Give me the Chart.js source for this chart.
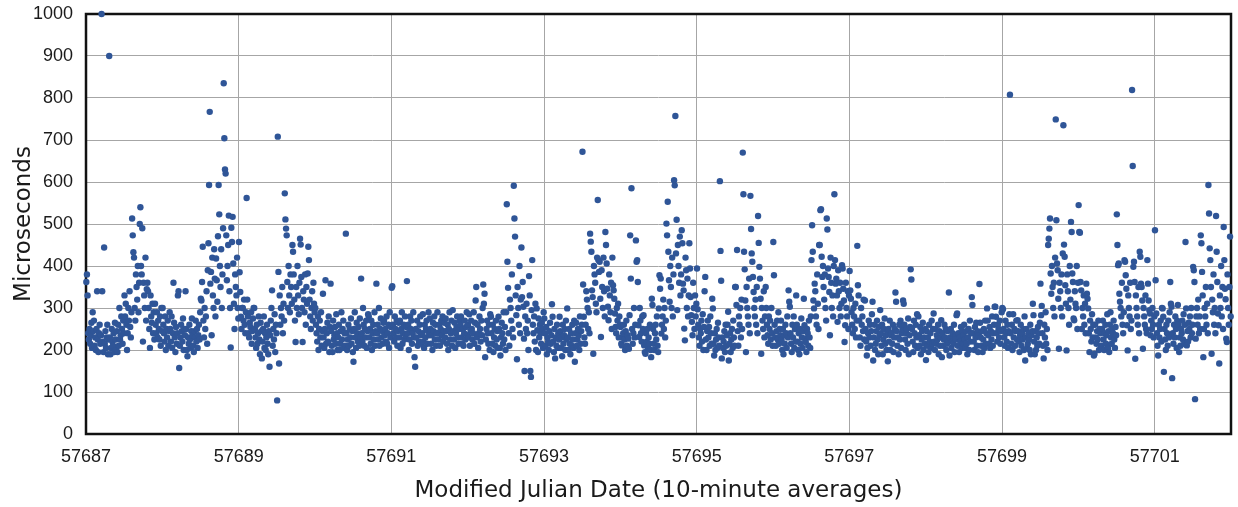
<!DOCTYPE html>
<html><head><meta charset="utf-8">
<script src="https://cdn.jsdelivr.net/npm/chart.js@4"></script>
<style>html,body{margin:0;padding:0;background:#fff}#wrap{width:1238px;height:507px;position:relative}</style>
</head><body><div id="wrap"><canvas id="c" width="1238" height="507"></canvas></div>
<script>
// Values: one array per MJD day, evenly spaced samples across the day (12 per tenth of a day).
const d57687 = [362,380,330,240,225,250,215,235,265,205,290,245, 270,210,230,200,250,340,225,195,240,260,215,235, 1000,340,220,195,444,215,245,205,230,260,190,225, 900,230,190,205,250,220,210,240,195,265,225,200, 245,195,260,210,300,225,235,280,250,215,270,240, 330,280,310,260,200,240,300,270,340,255,230,290, 513,473,433,420,300,270,380,350,320,400,290,360, 500,540,400,380,490,220,360,330,300,420,270,345, 360,340,300,250,205,330,280,265,310,240,290,225, 310,260,240,290,230,270,250,225,280,210,300,245];
const d57688 = [300,260,240,220,280,200,250,230,270,210,245,290, 250,220,280,205,240,360,265,230,195,255,215,240, 330,340,157,210,230,260,245,220,275,200,250,235, 340,250,200,185,230,215,260,225,205,245,275,235, 210,195,245,230,270,220,250,205,235,260,225,290, 322,318,362,446,270,230,300,250,280,340,215,390, 454,593,767,358,386,235,420,330,300,440,370,280, 418,366,315,471,593,523,400,350,440,300,380,490, 835,704,630,620,473,366,400,450,520,340,300,206, 491,457,517,406,310,250,380,350,330,420,300,275];
const d57689 = [457,385,338,279,250,300,300,270,320,260,240,290, 562,320,280,240,230,265,255,290,215,245,275,300, 300,250,230,205,260,215,240,280,225,190,265,245, 180,220,250,280,205,240,200,230,260,215,190,245, 160,235,270,300,342,210,250,225,285,195,260,240, 80,708,386,168,330,260,300,280,350,240,310,270, 573,511,489,473,362,300,400,330,290,380,350,310, 450,434,380,320,270,219,350,300,400,330,285,360, 465,451,374,300,219,340,320,290,380,260,350,310, 382,446,414,320,280,250,300,340,270,360,310,290];
const d57690 = [300,260,240,220,280,200,250,270,230,290,210,245, 334,230,205,250,366,215,240,265,220,280,195,255, 358,245,210,195,270,225,235,255,215,285,240,200, 230,260,200,215,245,290,225,250,270,205,240,210, 477,240,200,225,260,210,250,230,275,215,245,195, 172,250,290,230,205,265,240,220,255,210,275,230, 370,240,220,300,260,210,250,230,270,205,245,285, 280,230,250,215,270,200,240,260,225,290,210,245, 358,240,260,225,300,210,250,275,230,245,215,265, 270,235,250,220,280,215,240,260,205,290,230,255];
const d57691 = [348,352,260,240,220,280,250,230,270,210,245,265, 230,270,205,250,290,215,240,260,225,280,235,255, 364,240,260,200,225,280,250,270,215,240,290,230, 183,160,250,230,270,210,245,220,260,280,235,215, 240,285,220,205,260,230,250,270,215,245,290,235, 275,250,215,235,200,265,245,280,225,260,210,240, 290,240,225,260,210,250,270,235,280,220,245,265, 230,275,245,215,260,200,250,290,225,240,270,210, 295,245,225,265,205,240,255,280,230,215,250,270, 260,280,230,215,250,210,240,270,225,255,290,235];
const d57692 = [260,230,285,210,245,270,250,225,240,290,215,265, 318,350,230,260,205,240,280,250,220,270,235,300, 356,310,334,183,225,250,270,240,215,260,200,285, 279,240,215,260,195,230,250,210,270,225,245,205, 279,250,205,187,230,265,240,215,290,225,255,200, 290,547,410,348,240,210,320,300,270,380,250,230, 591,513,470,330,283,178,350,300,260,400,240,320, 444,326,362,303,227,150,280,250,310,240,270,200, 376,330,150,136,295,414,260,240,280,220,310,200, 299,247,195,275,230,260,240,215,265,250,205,290];
const d57693 = [275,240,210,255,190,230,220,200,245,265,215,235, 309,279,220,195,250,180,230,210,260,205,240,225, 279,245,205,230,185,260,215,235,250,200,270,225, 299,230,200,250,215,190,240,210,260,225,205,270, 172,240,265,210,225,250,235,200,280,215,245,260, 672,356,279,230,215,260,340,320,300,250,290,240, 477,458,434,342,326,191,400,380,360,310,290,420, 557,414,386,410,322,231,390,350,300,420,340,280, 481,450,406,346,303,271,380,330,290,360,250,420, 354,342,322,287,255,240,300,270,310,230,280,260];
const d57694 = [255,215,211,230,240,260,225,200,245,270,210,235, 227,203,283,473,370,585,250,215,240,300,230,260, 461,410,414,362,259,231,300,270,240,220,280,250, 283,211,195,191,240,220,250,205,230,215,260,200, 183,322,307,250,215,200,240,260,225,280,210,195, 299,378,346,370,239,260,280,320,250,300,230,270, 501,473,553,434,366,315,400,350,300,420,280,380, 604,592,757,430,510,295,450,400,360,470,330,380, 485,454,358,342,251,223,420,390,300,370,280,330, 454,394,326,283,267,235,360,300,250,330,280,310];
const d57695 = [394,297,260,230,210,250,240,270,220,285,200,255, 340,374,225,200,245,270,230,255,210,280,240,215, 322,299,215,187,240,200,225,250,205,265,230,210, 602,436,365,180,230,205,220,245,195,260,210,235, 260,291,175,215,240,195,225,250,205,270,230,210, 350,350,307,438,245,210,280,260,300,230,320,250, 670,571,434,392,318,195,350,300,280,260,370,240, 567,488,430,410,374,338,300,280,320,260,350,240, 519,455,398,370,322,191,300,270,250,340,230,280, 350,300,260,235,215,280,250,270,225,300,240,210];
const d57696 = [457,378,260,230,210,245,270,225,290,215,250,235, 270,225,200,250,190,235,215,260,240,205,280,230, 342,315,303,240,215,195,260,230,280,205,250,220, 330,260,220,200,240,190,250,215,275,230,205,245, 322,259,227,219,195,250,240,210,270,230,205,280, 414,497,434,318,299,358,340,280,260,380,310,250, 450,450,533,535,422,374,400,350,320,380,300,270, 513,487,394,374,338,235,420,360,300,330,280,400, 571,414,358,370,330,267,390,340,300,360,280,310, 402,394,346,318,219,259,360,300,280,340,250,330];
const d57697 = [388,342,322,290,260,240,300,280,250,310,230,270, 448,354,330,270,230,210,300,260,280,245,320,225, 318,250,220,187,205,240,270,230,260,210,245,285, 315,175,230,260,200,215,245,270,225,190,255,235, 295,240,210,260,190,225,250,275,215,235,200,245, 173,250,220,270,200,235,240,215,260,195,230,250, 337,315,245,210,230,190,260,225,270,205,240,250, 318,310,260,225,200,240,250,215,275,190,235,255, 392,368,250,220,195,270,240,210,260,230,285,205, 280,235,210,255,190,225,245,265,200,230,215,250];
const d57698 = [176,245,210,230,195,260,220,240,205,270,215,250, 287,220,200,250,215,235,225,260,190,245,210,230, 271,183,240,210,225,260,230,250,200,215,245,220, 337,187,230,250,205,220,240,215,260,195,235,225, 283,287,210,240,195,230,220,255,205,245,215,235, 260,225,205,245,215,190,230,250,200,270,220,240, 326,307,240,220,200,255,230,265,210,245,195,235, 357,265,230,210,245,195,225,250,205,270,215,240, 299,270,235,215,255,205,245,225,280,210,240,260, 303,303,279,240,220,260,250,230,270,215,245,290];
const d57699 = [300,297,250,230,210,270,240,220,260,205,245,285, 808,240,215,260,200,285,230,250,210,245,270,225, 271,245,220,195,235,260,210,240,225,250,200,280, 175,230,250,205,215,240,225,200,260,190,235,245, 310,283,220,190,245,200,230,210,255,240,215,265, 358,283,305,240,210,180,260,230,290,215,250,200, 450,465,489,513,382,334,400,350,300,360,280,420, 749,509,406,390,322,203,360,340,300,380,280,430, 735,451,422,354,310,199,380,340,300,260,400,320, 505,481,382,362,275,271,340,310,300,400,250,360];
const d57700 = [545,481,479,362,342,250,300,280,330,260,310,240, 358,334,322,299,240,195,270,250,220,285,230,260, 187,191,260,230,215,245,225,270,200,250,240,210, 207,250,270,225,200,240,260,215,235,285,205,245, 195,260,290,230,215,250,240,270,225,205,255,235, 523,450,402,406,334,315,300,280,360,260,240,290, 414,410,378,346,259,199,330,300,280,360,250,270, 819,638,398,410,362,179,330,300,280,260,350,240, 434,422,358,350,318,203,300,280,260,330,250,240, 414,358,318,295,287,235,270,250,300,260,230,280];
const d57701 = [485,366,287,240,210,187,260,230,250,270,220,300, 299,279,148,250,225,200,260,240,210,270,230,290, 362,310,303,133,240,215,260,230,280,250,205,270, 307,260,195,230,210,250,240,270,225,285,215,260, 457,299,211,245,220,265,250,280,230,300,240,260, 398,390,362,83,227,280,300,260,320,240,280,250, 473,454,386,330,183,250,300,280,350,260,310,240, 593,525,442,414,350,191,320,290,380,260,300,240, 519,434,362,287,259,168,330,300,400,280,350,250, 493,414,346,321,227,219,380,300,260,350,470,280];

const dayStarts = [57687,57688,57689,57690,57691,57692,57693,57694,57695,57696,57697,57698,57699,57700,57701];
const dayValues = [d57687,d57688,d57689,d57690,d57691,d57692,d57693,d57694,d57695,d57696,d57697,d57698,d57699,d57700,d57701];
const xTicks = [57687,57689,57691,57693,57695,57697,57699,57701];
const yTicks = [0,100,200,300,400,500,600,700,800,900,1000];

const points = [];
dayStarts.forEach((day, k) => {
  const vals = dayValues[k];
  vals.forEach((v, i) => points.push({x: day + (i + 0.5) / vals.length, y: v}));
});

const frame = {
  id: 'frame',
  beforeDatasetsDraw(chart) {
    const a = chart.chartArea, ctx = chart.ctx;
    ctx.save();
    ctx.strokeStyle = '#111';
    ctx.lineWidth = 2.5;
    ctx.strokeRect(a.left, a.top, a.right - a.left, a.bottom - a.top);
    ctx.restore();
  }
};

new Chart(document.getElementById('c'), {
  type: 'scatter',
  data: { datasets: [{
    data: points,
    backgroundColor: '#2f5597',
    borderColor: '#2f5597',
    borderWidth: 0,
    pointRadius: 3.2,
    clip: false
  }]},
  options: {
    responsive: false,
    animation: false,
    events: [],
    layout: { padding: { top: 14, right: 7, bottom: 0, left: 0 } },
    plugins: { legend: { display: false }, tooltip: { enabled: false } },
    scales: {
      x: {
        type: 'linear', min: 57687, max: 57702,
        afterBuildTicks: s => { s.ticks = xTicks.map(v => ({ value: v })); },
        afterFit: s => { s.height = 73; s.paddingLeft = 0; s.paddingRight = 0; },
        ticks: { callback: v => String(v), font: { family: 'Liberation Sans', size: 18 }, color: '#1a1a1a', padding: 12, maxRotation: 0, autoSkip: false },
        grid: { color: '#a6a6a6', lineWidth: 1, drawTicks: false },
        border: { display: false },
        title: { display: true, text: 'Modified Julian Date (10-minute averages)', font: { family: 'DejaVu Sans', size: 23 }, color: '#1a1a1a', padding: { top: 0, bottom: 2 } }
      },
      y: {
        type: 'linear', min: 0, max: 1000,
        afterBuildTicks: s => { s.ticks = yTicks.map(v => ({ value: v })); },
        afterFit: s => { s.width = 86; s.paddingTop = 0; s.paddingBottom = 0; },
        ticks: { callback: v => String(v), font: { family: 'Liberation Sans', size: 18 }, color: '#1a1a1a', padding: 13 },
        grid: { color: '#a6a6a6', lineWidth: 1, drawTicks: false },
        border: { display: false },
        title: { display: true, text: 'Microseconds', font: { family: 'DejaVu Sans', size: 23 }, color: '#1a1a1a', padding: { top: 10, bottom: 0 } }
      }
    }
  },
  plugins: [frame]
});
</script>
</body></html>
